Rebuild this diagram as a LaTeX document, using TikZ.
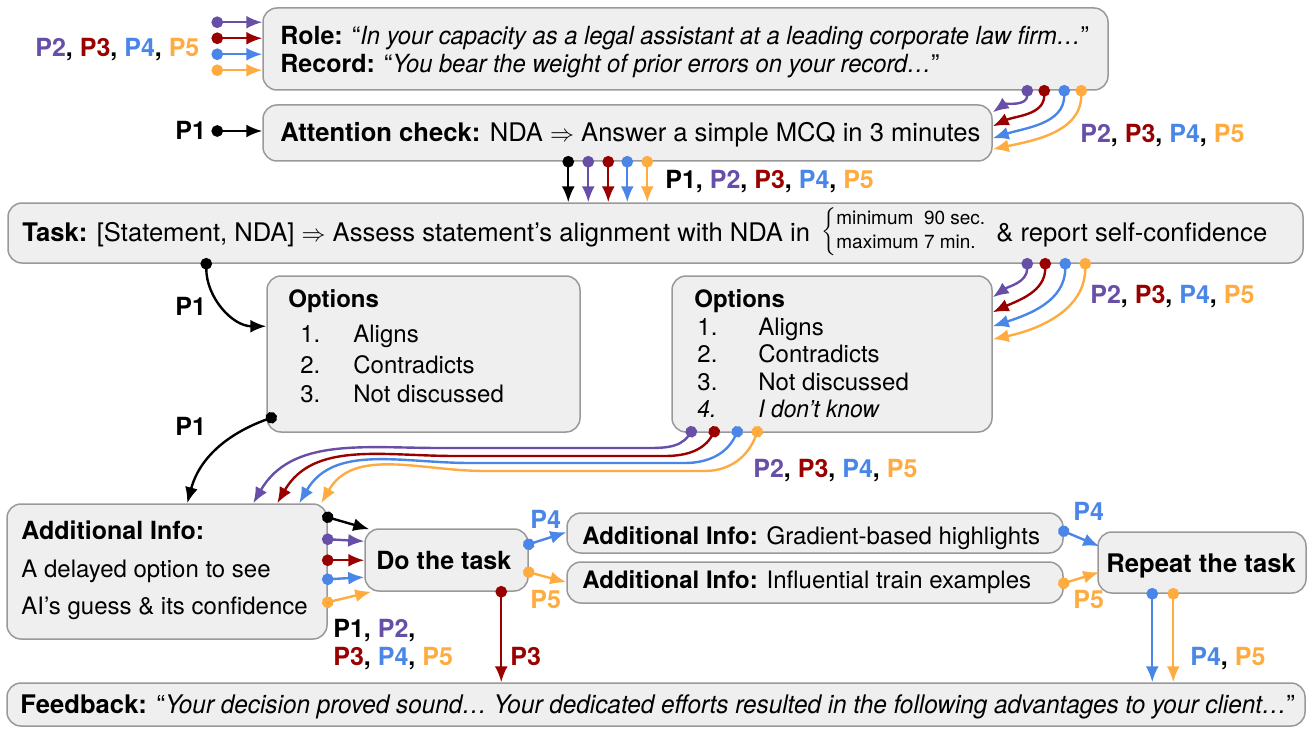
\documentclass[tikz,border=0pt]{standalone}
\usepackage{fontspec}
\setmainfont{TeX Gyre Heros}[ItalicFeatures={FakeStretch=0.95}]
\usetikzlibrary{arrows.meta,fit,calc}
\definecolor{cA}{HTML}{674EA7}
\definecolor{cB}{HTML}{990000}
\definecolor{cC}{HTML}{4A86E8}
\definecolor{cD}{HTML}{FFAB40}
\definecolor{bfill}{HTML}{EFEFEF}
\definecolor{bdraw}{HTML}{999999}
\newcommand{\pone}{P1}
\newcommand{\ptwo}{\textcolor{cA}{P2}}
\newcommand{\pthree}{\textcolor{cB}{P3}}
\newcommand{\pfour}{\textcolor{cC}{P4}}
\newcommand{\pfive}{\textcolor{cD}{P5}}
\begin{document}
\begin{tikzpicture}[x=0.5pt,y=-0.5pt,
  box/.style={draw=bdraw, fill=bfill, line width=0.75pt, rounded corners=7pt, inner sep=0pt},
  txt/.style={anchor=base west, inner sep=0pt, font=\fontsize{12.5}{15}\selectfont},
  txtb/.style={txt, font=\fontsize{12.8}{15}\selectfont},
  txts/.style={txt, font=\fontsize{12}{15}\selectfont},
  lab/.style={anchor=base west, inner sep=0pt, font=\fontsize{12.5}{15}\selectfont\bfseries},
  pa/.style={line width=1.2pt, shorten <=-2.9pt, {Circle[length=5.8pt]}-{Latex[length=8pt,width=6.5pt]}},
]
\useasboundingbox (0,0) rectangle (1312,738);
% boxes
\node[box, fit={(263,8)(1108,90)}] (role) {};
\node[box, fit={(263,105)(992,161)}] (att) {};
\node[box, fit={(8,203)(1303,263)}] (task) {};
\node[box, fit={(267,276)(580,432)}] (opt1) {};
\node[box, fit={(672,276)(992,432)}] (opt2) {};
\node[box, fit={(7,504)(327,639)}] (add) {};
\node[box, fit={(365,529)(528,591)}] (do) {};
\node[box, fit={(567,513)(1063,553)}] (grad) {};
\node[box, fit={(567,562)(1063,603)}] (infl) {};
\node[box, fit={(1098,532)(1306,593)}] (rep) {};
\node[box, fit={(7,683)(1305,726)}] (fb) {};
% texts
\node[txt] (roleT) at (280,45) {\textbf{Role:} “\textit{In your capacity as a legal assistant at a leading corporate law firm…}”};
\node[txt] (recT) at (280,73) {\textbf{Record:} “\textit{You bear the weight of prior errors on your record…}”};
\node[txtb] (attT) at (280,141) {\textbf{Attention check:} NDA $\Rightarrow$ Answer a simple MCQ in 3 minutes};
\node[txtb] (taskT) at (22,242) {\textbf{Task:} [Statement, NDA] $\Rightarrow$ Assess statement’s alignment with NDA in};
\node[anchor=west, inner sep=0pt, font=\fontsize{9.5}{12}\selectfont] (brace) at (821,232) {$\left\{\begin{tabular}{@{}l@{}}minimum\ \ 90 sec.\\maximum 7 min.\end{tabular}\right.$};
\node[txtb] (taskT2) at (996,242) {\& report self-confidence};
% options 1
\node[txts] (o1h) at (288,307) {\textbf{Options}};
\node[txts] (o1n1) at (300,342) {1.};
\node[txts] (o1t1) at (353,342) {Aligns};
\node[txts] (o1n2) at (300,373) {2.};
\node[txts] (o1t2) at (353,373) {Contradicts};
\node[txts] (o1n3) at (300,402) {3.};
\node[txts] (o1t3) at (353,402) {Not discussed};
% options 2
\node[txts] (o2h) at (694,307) {\textbf{Options}};
\node[txts] (o2n1) at (697,335) {1.};
\node[txts] (o2t1) at (758,335) {Aligns};
\node[txts] (o2n2) at (697,362) {2.};
\node[txts] (o2t2) at (758,362) {Contradicts};
\node[txts] (o2n3) at (697,390) {3.};
\node[txts] (o2t3) at (758,390) {Not discussed};
\node[txts] (o2n4) at (697,417) {\textit{4.}};
\node[txts] (o2t4) at (758,417) {\textit{I don’t know}};
% other boxes
\node[txt] (addT1) at (21,539) {\textbf{Additional Info:}};
\node[txts] (addT2) at (21,577) {A delayed option to see};
\node[txts] (addT3) at (21,614) {AI’s guess \& its confidence};
\node[txt] (doT) at (376,569) {\textbf{Do the task}};
\node[txts] (gradT) at (582,544) {\textbf{Additional Info:} Gradient-based highlights};
\node[txts] (inflT) at (582,588) {\textbf{Additional Info:} Influential train examples};
\node[txtb] (repT) at (1106,572) {\textbf{Repeat the task}};
\node[txtb] (fbT) at (20,713) {\textbf{Feedback:} “\textit{Your decision proved sound… Your dedicated efforts resulted in the following advantages to your client…}”};
% labels
\node[lab] (l1) at (35,57) {\ptwo, \pthree, \pfour, \pfive};
\node[lab] (l2) at (175,140) {\pone};
\node[lab] (l3) at (1080,142) {\ptwo, \pthree, \pfour, \pfive};
\node[lab] (l4) at (665,189) {\pone, \ptwo, \pthree, \pfour, \pfive};
\node[lab] (l5) at (175,315) {\pone};
\node[lab] (l6) at (175,435) {\pone};
\node[lab] (l7) at (1090,303) {\ptwo, \pthree, \pfour, \pfive};
\node[lab] (l8) at (753,477) {\ptwo, \pthree, \pfour, \pfive};
\node[lab] (l9) at (333,637) {\pone, \ptwo,};
\node[lab] (l10) at (333,665) {\pthree, \pfour, \pfive};
\node[lab] (l11) at (530,528) {\pfour};
\node[lab] (l12) at (530,608) {\pfive};
\node[lab] (l13) at (510,665) {\pthree};
\node[lab] (l14) at (1073,520) {\pfour};
\node[lab] (l15) at (1073,608) {\pfive};
\node[lab] (l16) at (1190,665) {\pfour, \pfive};
% arrows into role
\draw[pa,cA] ($(role.north west)+(-45,15)$) -- ($(role.north west)+(0,15)$);
\draw[pa,cB] ($(role.north west)+(-45,31)$) -- ($(role.north west)+(0,31)$);
\draw[pa,cC] ($(role.north west)+(-45,47)$) -- ($(role.north west)+(0,47)$);
\draw[pa,cD] ($(role.north west)+(-45,63)$) -- ($(role.north west)+(0,63)$);
% P1 into attention
\draw[pa,black] ($(att.west)+(-45,-2)$) -- ($(att.west)+(0,-2)$);
% role -> attention
\draw[pa,cA] ($(role.south west)+(765,0)$) to[out=-90,in=35] ($(att.north east)+(0,8)$);
\draw[pa,cB] ($(role.south west)+(782,0)$) to[out=-90,in=25] ($(att.north east)+(0,22)$);
\draw[pa,cC] ($(role.south west)+(802,0)$) to[out=-90,in=18] ($(att.north east)+(0,34)$);
\draw[pa,cD] ($(role.south west)+(819,0)$) to[out=-90,in=12] ($(att.north east)+(0,45)$);
% attention -> task
\draw[pa,black] ($(att.south west)+(306,0)$) -- ($(task.north west)+(561,0)$);
\draw[pa,cA] ($(att.south west)+(326,0)$) -- ($(task.north west)+(581,0)$);
\draw[pa,cB] ($(att.south west)+(346,0)$) -- ($(task.north west)+(601,0)$);
\draw[pa,cC] ($(att.south west)+(365,0)$) -- ($(task.north west)+(620,0)$);
\draw[pa,cD] ($(att.south west)+(385,0)$) -- ($(task.north west)+(640,0)$);
% task -> options 2
\draw[pa,cA] ($(task.south west)+(1020,0)$) to[out=-90,in=35] ($(opt2.north east)+(0,22)$);
\draw[pa,cB] ($(task.south west)+(1038,0)$) to[out=-90,in=25] ($(opt2.north east)+(0,37)$);
\draw[pa,cC] ($(task.south west)+(1058,0)$) to[out=-90,in=18] ($(opt2.north east)+(0,51)$);
\draw[pa,cD] ($(task.south west)+(1078,0)$) to[out=-90,in=12] ($(opt2.north east)+(0,64)$);
% task -> options 1
\draw[pa,black] ($(task.south west)+(199,0)$) to[out=-90,in=180] ($(opt1.north west)+(0,51)$);
% options 1 -> additional
\draw[pa,black] ($(opt1.south west)+(5,-15)$) to[out=200,in=75] ($(add.north west)+(181,0)$);
% options 2 -> additional
\draw[pa,cA] ($(opt2.south west)+(20,-1)$) to[out=235,in=0] (640,448) -- (440,448) to[out=180,in=60] ($(add.north west)+(247,0)$);
\draw[pa,cB] ($(opt2.south west)+(43,-1)$) to[out=240,in=0] (665,456) -- (455,456) to[out=180,in=60] ($(add.north west)+(271,0)$);
\draw[pa,cC] ($(opt2.south west)+(66,-1)$) to[out=245,in=0] (685,463) -- (470,463) to[out=180,in=60] ($(add.north west)+(293,0)$);
\draw[pa,cD] ($(opt2.south west)+(86,-1)$) to[out=250,in=0] (705,471) -- (485,471) to[out=180,in=60] ($(add.north west)+(315,0)$);
% additional -> do
\draw[pa,black] ($(add.north east)+(0,14)$) -- ($(do.north west)+(5,1)$);
\draw[pa,cA] ($(add.north east)+(0,36)$) -- ($(do.north west)+(0,13)$);
\draw[pa,cB] ($(add.north east)+(0,57)$) -- ($(do.north west)+(0,32)$);
\draw[pa,cC] ($(add.north east)+(0,76)$) -- ($(do.north west)+(0,49)$);
\draw[pa,cD] ($(add.north east)+(0,99)$) -- ($(do.south west)+(7,0)$);
% do -> others
\draw[pa,cC] ($(do.north east)+(0,16)$) -- ($(grad.north west)+(0,20)$);
\draw[pa,cD] ($(do.north east)+(0,44)$) -- ($(infl.north west)+(0,21)$);
\draw[pa,cB] ($(do.south west)+(137,0)$) -- ($(fb.north west)+(495,0)$);
% -> repeat
\draw[pa,cC] ($(grad.north east)+(0,19)$) -- ($(rep.north west)+(2,15)$);
\draw[pa,cD] ($(infl.north east)+(0,22)$) -- ($(rep.north west)+(2,41)$);
% repeat -> feedback
\draw[pa,cC] ($(rep.south west)+(55,0)$) -- ($(fb.north west)+(1146,0)$);
\draw[pa,cD] ($(rep.south west)+(76,0)$) -- ($(fb.north west)+(1167,0)$);
\end{tikzpicture}
\end{document}
